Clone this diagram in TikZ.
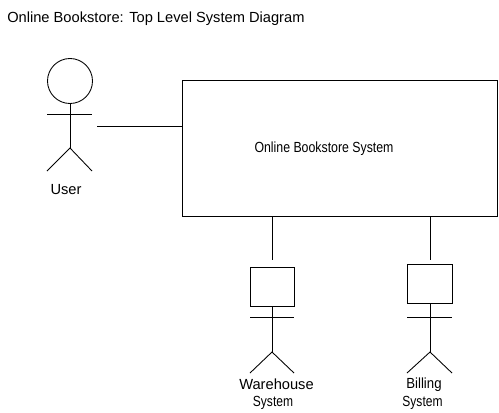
\documentclass[tikz,border=0pt]{standalone}
\usepackage{fontspec}
\setmainfont{Liberation Sans}
\tikzset{
  line/.style={line width=0.65pt,black},
  sysbox/.style={draw,line width=0.65pt,inner sep=0pt},
  lbl/.style={inner sep=0pt,font=\fontsize{11pt}{13pt}\selectfont},
}
\begin{document}
\begin{tikzpicture}[x=0.75pt,y=-0.75pt]
      \useasboundingbox (0,0) rectangle (499,412);
      \node[lbl,anchor=west] (title) at (7,18.5) {Online Bookstore: Top Level System Diagram};
      % user
      \node[draw,line,circle,minimum size=33.75pt,inner sep=0pt] (head) at (70,81) {};
      \coordinate (UA) at (47,114);
      \coordinate (UB) at (92,114);
      \coordinate (UH) at (70,148);
      \coordinate (UL) at (47,171);
      \coordinate (UR) at (92,171);
      \coordinate (UE) at (97,126);
      \draw[line] (head) -- (UH);
      \draw[line] (UA) -- (UB);
      \draw[line] (UL) -- (UH) -- (UR);
      \node[lbl] (user) at (66,190) {User};
      % system
      \node[sysbox,minimum width=236.25pt,minimum height=102pt] (sys) at (339.5,148) {};
      \node[lbl,xscale=0.84] (syslabel) at (324,148.5) {Online Bookstore System};
      \draw[line] (UE) -- (sys.west |- UE);
      % warehouse
      \node[sysbox,minimum width=33pt,minimum height=29.25pt] (ware) at (272,286.5) {};
      \coordinate (WT) at (272,260);
      \coordinate (WA) at (250,317);
      \coordinate (WB) at (294,317);
      \coordinate (WH) at (272,352);
      \coordinate (WL) at (250,373);
      \coordinate (WR) at (294,373);
      \draw[line] (sys.south -| WT) -- (WT);
      \draw[line] (ware) -- (WH);
      \draw[line] (WA) -- (WB);
      \draw[line] (WL) -- (WH) -- (WR);
      \node[lbl] (warelabel) at (276.5,384) {Warehouse};
      \node[lbl,xscale=0.82] (warelabelb) at (273,403) {System};
      % billing
      \node[sysbox,minimum width=33.75pt,minimum height=29.25pt] (bill) at (429.5,283.5) {};
      \coordinate (BT) at (430,260);
      \coordinate (BA) at (407,317);
      \coordinate (BB) at (452,317);
      \coordinate (BH) at (430,352);
      \coordinate (BL) at (407,373);
      \coordinate (BR) at (452,373);
      \draw[line] (sys.south -| BT) -- (BT);
      \draw[line] (bill.south -| BH) -- (BH);
      \draw[line] (BA) -- (BB);
      \draw[line] (BL) -- (BH) -- (BR);
      \node[lbl,xscale=0.9] (billlabel) at (424,385) {Billing};
      \node[lbl,xscale=0.82] (billlabelb) at (422.5,403) {System};
\end{tikzpicture}
\end{document}
